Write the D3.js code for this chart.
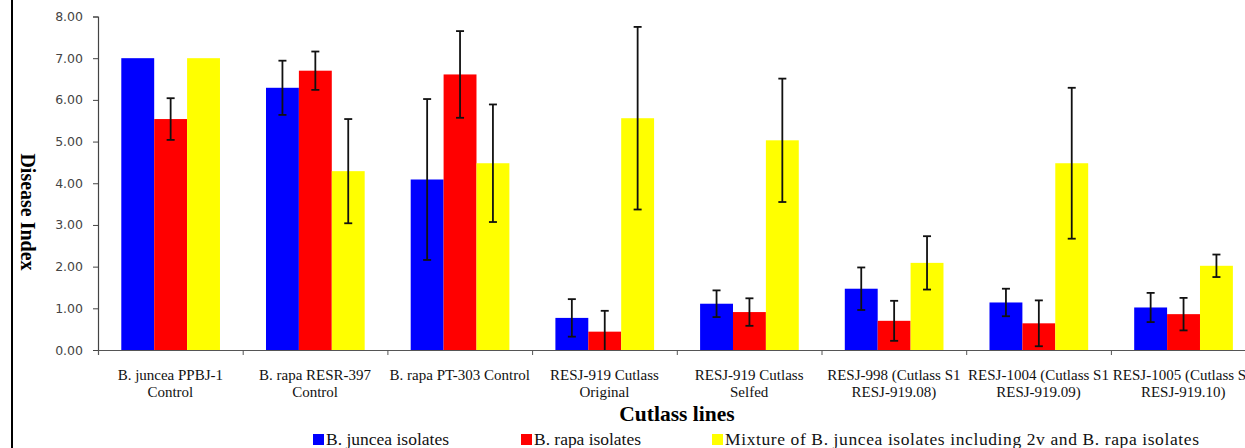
<!DOCTYPE html>
<html>
<head>
<meta charset="utf-8">
<script src="https://cdn.jsdelivr.net/npm/d3@7"></script>
<style>
  html, body { margin: 0; padding: 0; background: #fff; }
  svg { display: block; }
</style>
</head>
<body>
<svg id="chart" width="1245" height="448"></svg>
<script>
// ---- Data ----
const categories = [
  ["B. juncea PPBJ-1", "Control"],
  ["B. rapa RESR-397", "Control"],
  ["B. rapa PT-303 Control"],
  ["RESJ-919 Cutlass", "Original"],
  ["RESJ-919 Cutlass", "Selfed"],
  ["RESJ-998 (Cutlass S1", "RESJ-919.08)"],
  ["RESJ-1004 (Cutlass S1", "RESJ-919.09)"],
  ["RESJ-1005 (Cutlass S1", "RESJ-919.10)"]
];
const seriesNames = [
  "B. juncea isolates",
  "B. rapa isolates",
  "Mixture of B. juncea isolates including 2v and B. rapa isolates"
];
const junceaValues = [7.00, 6.29, 4.09, 0.77, 1.11, 1.47, 1.14, 1.02];
const junceaErrors = [0.00, 0.65, 1.93, 0.45, 0.32, 0.51, 0.33, 0.35];
const rapaValues   = [5.54, 6.70, 6.61, 0.44, 0.91, 0.70, 0.64, 0.86];
const rapaErrors   = [0.50, 0.46, 1.04, 0.50, 0.33, 0.48, 0.55, 0.39];
const mixValues    = [7.00, 4.29, 4.48, 5.56, 5.03, 2.09, 4.48, 2.02];
const mixErrors    = [0.00, 1.25, 1.41, 2.19, 1.48, 0.64, 1.81, 0.27];
const yTicks = [0, 1, 2, 3, 4, 5, 6, 7, 8];
const colors = ["#0000ff", "#ff0000", "#ffff00"];

const seriesValues = [junceaValues, rapaValues, mixValues];
const seriesErrors = [junceaErrors, rapaErrors, mixErrors];

// ---- Layout ----
const svg = d3.select("#chart");
const serif = "'Liberation Serif', 'Times New Roman', serif";
const axisX = 98, groupW = 144.7;
const x0 = d3.scaleBand()
  .domain(d3.range(categories.length))
  .range([axisX, axisX + groupW * categories.length])
  .padding(0);
const x1 = d3.scaleBand()
  .domain(d3.range(seriesNames.length))
  .range([x0.bandwidth() * 0.161, x0.bandwidth() * 0.843])
  .padding(0);
const y = d3.scaleLinear().domain([0, 8]).range([350, 16.5]);

// left frame line
svg.append("line")
  .attr("x1", 12).attr("x2", 12).attr("y1", 0).attr("y2", 448)
  .attr("stroke", "#000").attr("stroke-width", 2);

// bars
const groups = svg.append("g").selectAll("g")
  .data(categories.map((c, i) => i))
  .join("g")
  .attr("transform", i => `translate(${x0(i)},0)`);

groups.selectAll("rect")
  .data(i => seriesValues.map((vals, s) => ({ s, v: vals[i], e: seriesErrors[s][i] })))
  .join("rect")
  .attr("x", d => x1(d.s))
  .attr("width", x1.bandwidth())
  .attr("y", d => y(d.v))
  .attr("height", d => y(0) - y(d.v))
  .attr("fill", d => colors[d.s]);

// error bars
const eb = groups.selectAll("g.err")
  .data(i => seriesValues.map((vals, s) => ({ s, v: vals[i], e: seriesErrors[s][i] })).filter(d => d.e > 0))
  .join("g").attr("class", "err")
  .attr("stroke", "#111").attr("stroke-width", 1.8);
eb.append("line")
  .attr("x1", d => x1(d.s) + x1.bandwidth() / 2)
  .attr("x2", d => x1(d.s) + x1.bandwidth() / 2)
  .attr("y1", d => y(d.v + d.e))
  .attr("y2", d => y(Math.max(0, d.v - d.e)));
eb.append("line")
  .attr("x1", d => x1(d.s) + x1.bandwidth() / 2 - 4)
  .attr("x2", d => x1(d.s) + x1.bandwidth() / 2 + 4)
  .attr("y1", d => y(d.v + d.e)).attr("y2", d => y(d.v + d.e));
eb.filter(d => d.v - d.e > 0).append("line")
  .attr("x1", d => x1(d.s) + x1.bandwidth() / 2 - 4)
  .attr("x2", d => x1(d.s) + x1.bandwidth() / 2 + 4)
  .attr("y1", d => y(d.v - d.e)).attr("y2", d => y(d.v - d.e));

// y axis
const yAxis = d3.axisLeft(y).tickValues(yTicks).tickFormat(d3.format(".2f")).tickSize(5).tickPadding(10);
const gy = svg.append("g").attr("transform", `translate(${axisX},0)`).call(yAxis);
gy.select(".domain").attr("stroke", "#444").attr("stroke-width", 1.2);
gy.selectAll(".tick line").attr("stroke", "#444");
gy.selectAll(".tick text")
  .attr("font-family", "'DejaVu Sans', Verdana, sans-serif")
  .attr("font-size", 12.5).attr("fill", "#444");

// x axis
const xLine = d3.scaleLinear().domain([0, categories.length]).range([axisX, axisX + groupW * categories.length]);
const xAxis = d3.axisBottom(xLine).tickValues(d3.range(0, categories.length + 1)).tickSize(5).tickFormat("");
const gx = svg.append("g").attr("transform", `translate(0,${y(0)})`).call(xAxis);
gx.select(".domain").attr("stroke", "#555").attr("stroke-width", 1.2);
gx.selectAll(".tick line").attr("stroke", "#555");

// category labels
const labels = svg.append("g")
  .style("font-family", serif)
  .attr("font-size", 15).attr("fill", "#111").attr("text-anchor", "middle");
categories.forEach((lines, i) => {
  const cx = x0(i) + x0.bandwidth() / 2;
  const t = labels.append("text").attr("x", cx).attr("y", 380);
  lines.forEach((ln, k) => {
    t.append("tspan").attr("x", cx).attr("dy", k === 0 ? 0 : 17).text(ln);
  });
});

// axis titles
svg.append("text")
  .attr("x", 677).attr("y", 421)
  .attr("text-anchor", "middle")
  .style("font-family", serif)
  .attr("font-weight", "bold").attr("font-size", 21.5)
  .text("Cutlass lines");
svg.append("text")
  .attr("transform", "translate(21,212) rotate(90)")
  .attr("text-anchor", "middle")
  .style("font-family", serif)
  .attr("font-weight", "bold").attr("font-size", 20)
  .text("Disease Index");

// legend
const legendX = [313, 521, 712];
const legendW = [123, 107, 474];
const leg = svg.append("g")
  .style("font-family", serif)
  .attr("font-size", 17.5).attr("fill", "#111");
seriesNames.forEach((n, s) => {
  leg.append("rect").attr("x", legendX[s]).attr("y", 434).attr("width", 11).attr("height", 11).attr("fill", colors[s]);
  leg.append("text").attr("x", legendX[s] + 13).attr("y", 445)
    .attr("textLength", legendW[s]).attr("lengthAdjust", "spacing").text(n);
});
</script>
</body>
</html>
